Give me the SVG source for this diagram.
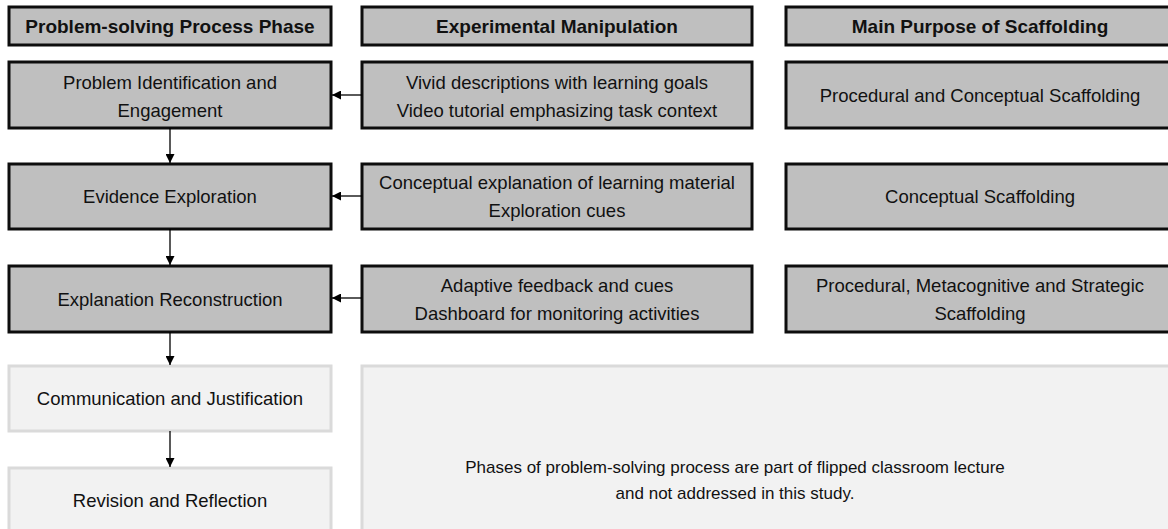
<svg xmlns="http://www.w3.org/2000/svg" width="1168" height="529" viewBox="0 0 1168 529">
<defs>
<style>
.dark{fill:#bfbfbf;stroke:#0d0d0d;stroke-width:3}
.light{fill:#f2f2f2;stroke:#dadada;stroke-width:3}
text{font-family:"Liberation Sans",Arial,sans-serif;font-size:18.5px;fill:#111;text-anchor:middle}
.h{font-weight:bold;font-size:19px}
.s{font-size:17px}
.c{stroke:#000;stroke-width:1.3;fill:none;marker-end:url(#ah)}
</style>
<marker id="ah" viewBox="0 0 10 10" refX="10" refY="5" markerWidth="10" markerHeight="9" markerUnits="userSpaceOnUse" orient="auto">
<path d="M0,0 L10,5 L0,10 Z" fill="#000"/>
</marker>
</defs>
<rect width="1168" height="529" fill="#fff"/>
<g id="h1"><rect class="dark" x="9" y="7" width="322" height="38"/><text class="h" x="170" y="33">Problem-solving Process Phase</text></g>
<g id="h2"><rect class="dark" x="362" y="7" width="390" height="38"/><text class="h" x="557" y="33">Experimental Manipulation</text></g>
<g id="h3"><rect class="dark" x="786" y="7" width="390" height="38"/><text class="h" x="980" y="33">Main Purpose of Scaffolding</text></g>
<g id="p1"><rect class="dark" x="9" y="62" width="322" height="66"/><text x="170" y="89">Problem Identification  and</text><text x="170" y="117">Engagement</text></g>
<g id="m1"><rect class="dark" x="362" y="62" width="390" height="66"/><text x="557" y="89">Vivid descriptions with  learning goals</text><text x="557" y="117">Video tutorial emphasizing task context</text></g>
<g id="s1"><rect class="dark" x="786" y="62" width="390" height="66"/><text x="980" y="102">Procedural and Conceptual Scaffolding</text></g>
<g id="p2"><rect class="dark" x="9" y="164" width="322" height="65"/><text x="170" y="203">Evidence Exploration</text></g>
<g id="m2"><rect class="dark" x="362" y="164" width="390" height="65"/><text x="557" y="189">Conceptual explanation of learning material</text><text x="557" y="217">Exploration cues</text></g>
<g id="s2"><rect class="dark" x="786" y="164" width="390" height="65"/><text x="980" y="203">Conceptual Scaffolding</text></g>
<g id="p3"><rect class="dark" x="9" y="266" width="322" height="66"/><text x="170" y="306">Explanation Reconstruction</text></g>
<g id="m3"><rect class="dark" x="362" y="266" width="390" height="66"/><text x="557" y="292">Adaptive  feedback and cues</text><text x="557" y="320">Dashboard for monitoring activities</text></g>
<g id="s3"><rect class="dark" x="786" y="266" width="390" height="66"/><text x="980" y="292">Procedural, Metacognitive and Strategic</text><text x="980" y="320">Scaffolding</text></g>
<g id="p4"><rect class="light" x="9" y="366" width="322" height="65"/><text x="170" y="405">Communication and Justification</text></g>
<g id="p5"><rect class="light" x="9" y="468" width="322" height="70"/><text x="170" y="507">Revision and Reflection</text></g>
<g id="note"><rect class="light" x="362" y="366" width="815" height="175"/><text class="s" x="735" y="473">Phases of problem-solving process are part of flipped  classroom lecture</text><text class="s" x="735" y="499">and not addressed in this study.</text></g>
<g id="connectors">
<line class="c" x1="362" y1="95" x2="332" y2="95"/>
<line class="c" x1="362" y1="196" x2="332" y2="196"/>
<line class="c" x1="362" y1="298" x2="332" y2="298"/>
<line class="c" x1="170" y1="128" x2="170" y2="163"/>
<line class="c" x1="170" y1="229" x2="170" y2="265"/>
<line class="c" x1="170" y1="332" x2="170" y2="365"/>
<line class="c" x1="170" y1="431" x2="170" y2="467"/>
</g>
</svg>
